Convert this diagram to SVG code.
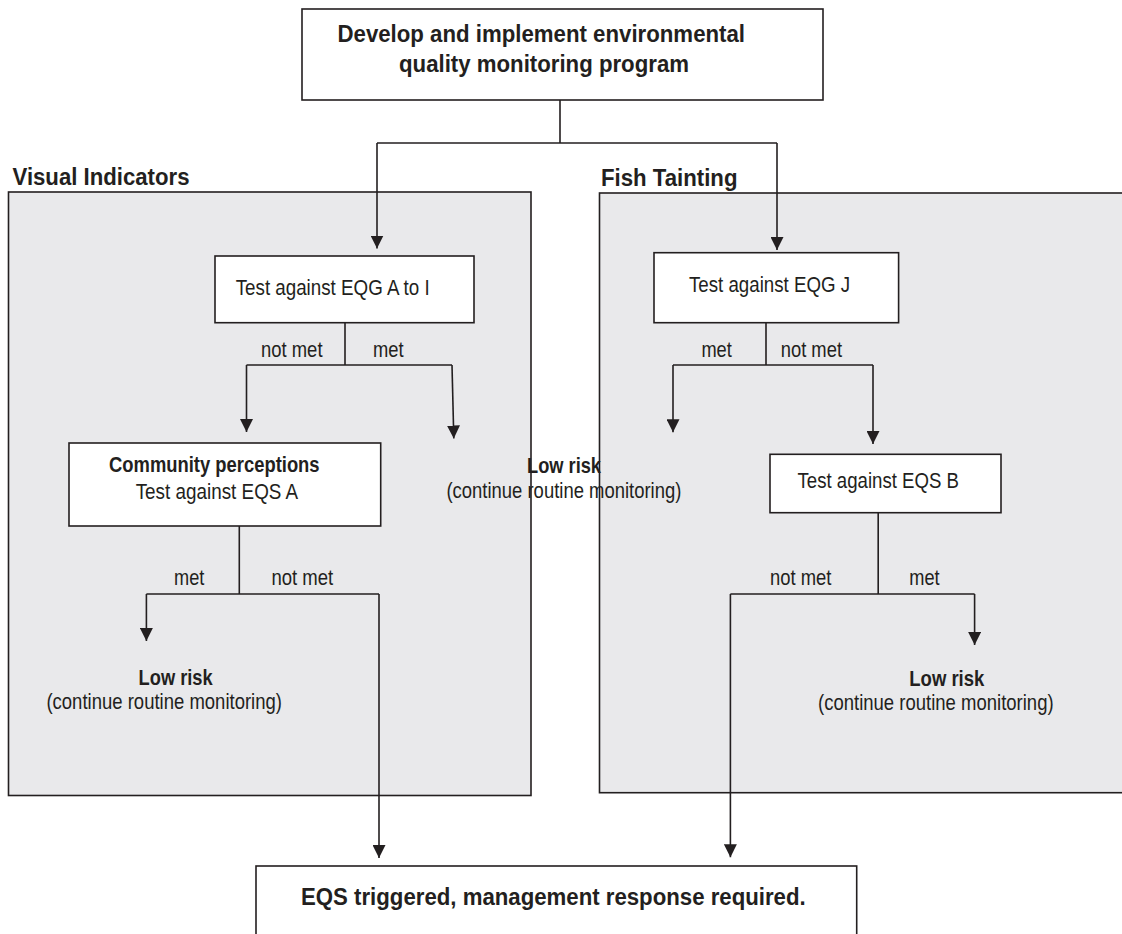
<svg xmlns="http://www.w3.org/2000/svg" width="1122" height="934" viewBox="0 0 1122 934">
  <style>
    .panel { fill: #e9e9eb; stroke: #231f20; stroke-width: 1.6; }
    .box { fill: #ffffff; stroke: #231f20; stroke-width: 1.6; }
    .wire { fill: none; stroke: #231f20; stroke-width: 1.6; }
    .arrow { fill: none; stroke: #231f20; stroke-width: 1.6; marker-end: url(#head); }
    text { font-family: "Liberation Sans", Arial, sans-serif; fill: #231f20; }
    .big { font-size: 23.5px; font-weight: bold; }
    .bold { font-size: 21.5px; font-weight: bold; }
    .reg { font-size: 21.5px; }
  </style>
  <defs>
    <marker id="head" markerUnits="userSpaceOnUse" markerWidth="13" markerHeight="13" refX="13" refY="6.5" orient="auto" viewBox="0 0 13 13">
      <path d="M0,0 L13,6.5 L0,13 z" fill="#231f20"/>
    </marker>
  </defs>

  <!-- monitoring areas -->
  <g id="visual-indicators">
    <rect class="panel" x="8.5" y="192" width="522.5" height="603.5"/>
    <text class="big" x="12.5" y="185" textLength="177" lengthAdjust="spacingAndGlyphs">Visual Indicators</text>
  </g>
  <g id="fish-tainting">
    <rect class="panel" x="599.5" y="193" width="540" height="599.7"/>
    <text class="big" x="601" y="186" textLength="136.5" lengthAdjust="spacingAndGlyphs">Fish Tainting</text>
  </g>

  <!-- connectors -->
  <g id="connectors">
    <path class="wire" d="M560 100 V143 M377 143 H777"/>
    <path class="arrow" d="M377 143 V248.5"/>
    <path class="arrow" d="M777 143 V250"/>

    <path class="wire" d="M345 323 V365 M246.5 365 H452"/>
    <path class="arrow" d="M246.5 365 V432"/>
    <path class="arrow" d="M452 365 L453.8 438.5"/>

    <path class="wire" d="M766 323 V365 M673 365 H873"/>
    <path class="arrow" d="M673 365 V432.3"/>
    <path class="arrow" d="M873 365 V444"/>

    <path class="wire" d="M239.3 526 V594 M146.4 594 H379"/>
    <path class="arrow" d="M146.4 594 V641"/>
    <path class="arrow" d="M379 594 V858"/>

    <path class="wire" d="M878.2 513 V594 M730.4 594 H974.6"/>
    <path class="arrow" d="M730.4 594 V857.3"/>
    <path class="arrow" d="M974.6 594 V645"/>
  </g>

  <!-- branch labels -->
  <g id="labels">
    <text class="reg" x="261" y="357" textLength="61.5" lengthAdjust="spacingAndGlyphs">not met</text>
    <text class="reg" x="373" y="357" textLength="30.6" lengthAdjust="spacingAndGlyphs">met</text>
    <text class="reg" x="701.4" y="357" textLength="30.4" lengthAdjust="spacingAndGlyphs">met</text>
    <text class="reg" x="780.7" y="357" textLength="61.3" lengthAdjust="spacingAndGlyphs">not met</text>
    <text class="reg" x="174" y="585" textLength="30.3" lengthAdjust="spacingAndGlyphs">met</text>
    <text class="reg" x="271.4" y="585" textLength="61.8" lengthAdjust="spacingAndGlyphs">not met</text>
    <text class="reg" x="770" y="585" textLength="61.4" lengthAdjust="spacingAndGlyphs">not met</text>
    <text class="reg" x="909.3" y="585" textLength="30.3" lengthAdjust="spacingAndGlyphs">met</text>
  </g>

  <g id="program">
    <rect class="box" x="302" y="9" width="521" height="91"/>
    <text class="big" x="337.5" y="42" textLength="407.5" lengthAdjust="spacingAndGlyphs">Develop and implement environmental</text>
    <text class="big" x="399" y="72" textLength="290" lengthAdjust="spacingAndGlyphs">quality monitoring program</text>
  </g>

  <g id="eqg-a-to-i">
    <rect class="box" x="215" y="256" width="259" height="66.7"/>
    <text class="reg" x="235.7" y="295" textLength="194" lengthAdjust="spacingAndGlyphs">Test against EQG A to I</text>
  </g>

  <g id="eqg-j">
    <rect class="box" x="654" y="252.7" width="244.6" height="70"/>
    <text class="reg" x="689" y="291.7" textLength="161" lengthAdjust="spacingAndGlyphs">Test against EQG J</text>
  </g>

  <g id="community-perceptions">
    <rect class="box" x="69" y="443" width="311.7" height="83"/>
    <text class="bold" x="109" y="472.3" textLength="210.6" lengthAdjust="spacingAndGlyphs">Community perceptions</text>
    <text class="reg" x="135.7" y="499" textLength="162.5" lengthAdjust="spacingAndGlyphs">Test against EQS A</text>
  </g>

  <g id="eqs-b">
    <rect class="box" x="770" y="454.3" width="231" height="58.4"/>
    <text class="reg" x="797.5" y="488.3" textLength="161.5" lengthAdjust="spacingAndGlyphs">Test against EQS B</text>
  </g>

  <g id="low-risk-middle">
    <text class="bold" x="527" y="473" textLength="74" lengthAdjust="spacingAndGlyphs">Low risk</text>
    <text class="reg" x="446.4" y="498" textLength="235" lengthAdjust="spacingAndGlyphs">(continue routine monitoring)</text>
  </g>

  <g id="low-risk-left">
    <text class="bold" x="138.6" y="685" textLength="74" lengthAdjust="spacingAndGlyphs">Low risk</text>
    <text class="reg" x="46.4" y="709" textLength="235.6" lengthAdjust="spacingAndGlyphs">(continue routine monitoring)</text>
  </g>

  <g id="low-risk-right">
    <text class="bold" x="909.3" y="685.7" textLength="75" lengthAdjust="spacingAndGlyphs">Low risk</text>
    <text class="reg" x="818" y="710" textLength="235.6" lengthAdjust="spacingAndGlyphs">(continue routine monitoring)</text>
  </g>

  <g id="eqs-triggered">
    <rect class="box" x="256" y="866" width="600.7" height="100"/>
    <text class="big" x="301" y="905" textLength="504.7" lengthAdjust="spacingAndGlyphs">EQS triggered, management response required.</text>
  </g>
</svg>
